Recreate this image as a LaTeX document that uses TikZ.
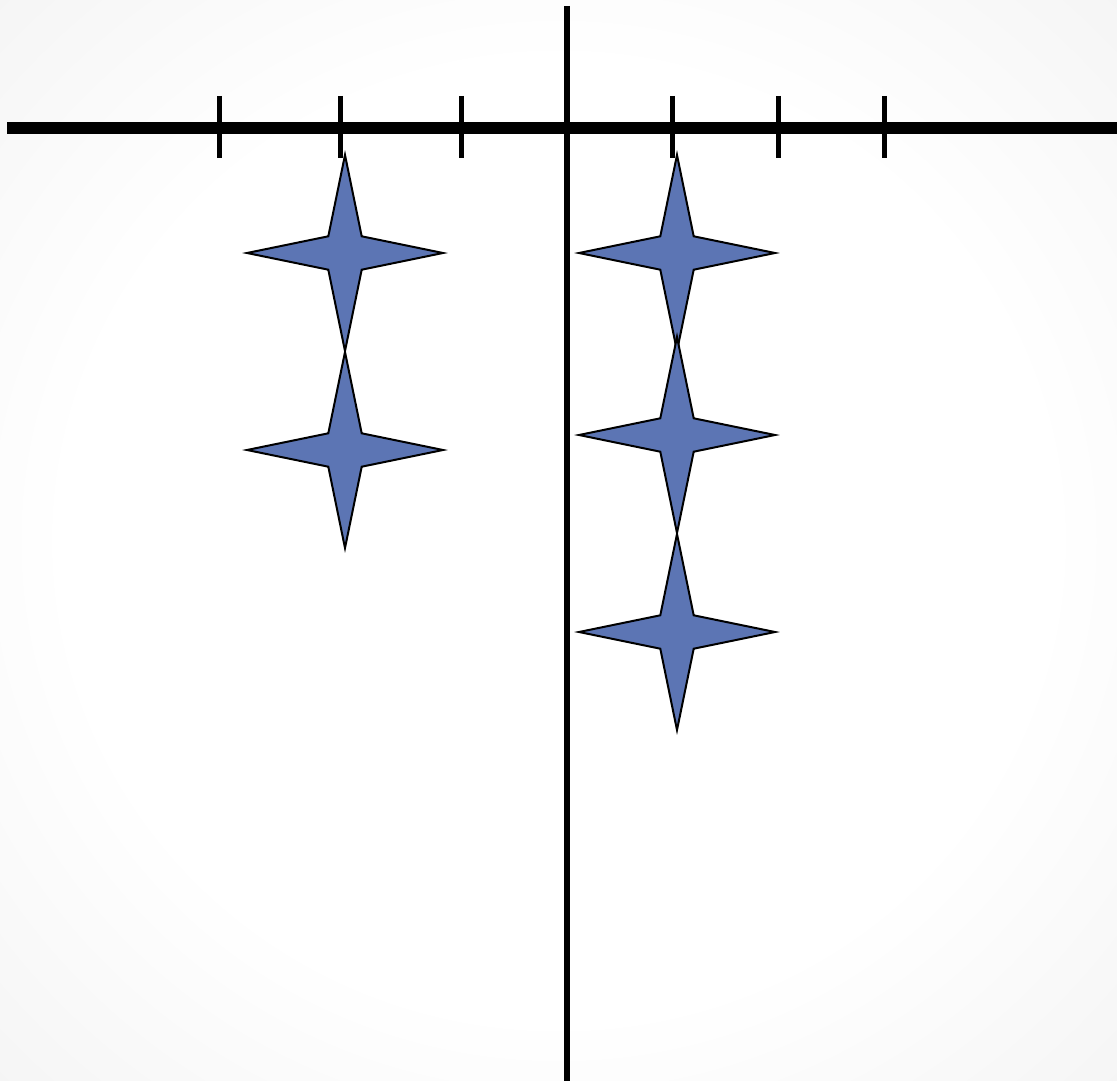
\documentclass[tikz,border=0pt]{standalone}
\definecolor{starblue}{RGB}{92,117,180}
\pgfdeclareradialshading{bgshade}{\pgfpoint{0bp}{0bp}}{color(0bp)=(white); color(22bp)=(white); color(36bp)=(black!4); color(50bp)=(black!5)}
\tikzset{
  axisline/.style={line width=12pt, black},
  vaxis/.style={line width=6pt, black},
  tickline/.style={line width=5pt, black},
  starshape/.style={fill=starblue, draw=black, line width=2pt, line join=miter},
  fourstar/.pic={
    \path[starshape] (0,-98) -- (16.7,-16.7) -- (98,0) -- (16.7,16.7) -- (0,98) -- (-16.7,16.7) -- (-98,0) -- (-16.7,-16.7) -- cycle;
  }
}
\begin{document}
\begin{tikzpicture}[x=1pt,y=-1pt]
\useasboundingbox (0,0) rectangle (1117,1081);
\shade[shading=bgshade] (0,0) rectangle (1117,1081);
% axes
\coordinate (hl) at (7,127.5);
\coordinate (hr) at (1117,127.5);
\coordinate (vt) at (566.5,6);
\coordinate (vb) at (566.5,1081);
\draw[axisline] (hl) -- (hr);
\draw[vaxis] (vt) -- (vb);
% ticks
\foreach \x in {219,340,461,672,778,884}{
  \draw[tickline] (\x,96) -- (\x,158);
}
% stars
\pic at (345,253) {fourstar};
\pic at (345,450) {fourstar};
\pic at (677,253) {fourstar};
\pic at (677,435) {fourstar};
\pic at (677,632) {fourstar};
\end{tikzpicture}
\end{document}
